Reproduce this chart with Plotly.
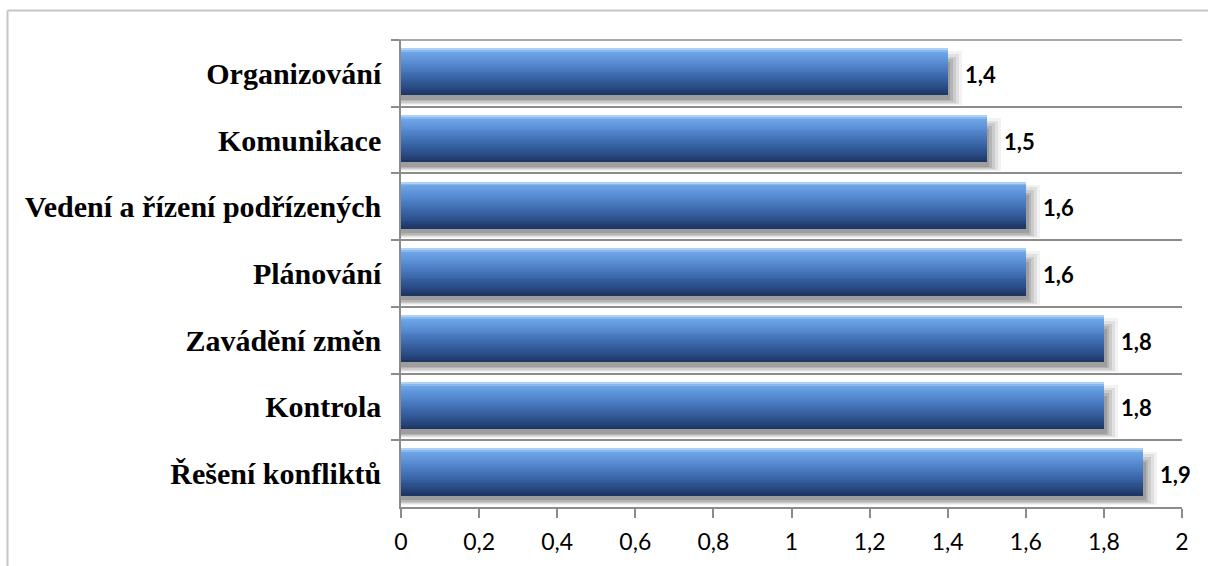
import plotly.graph_objects as go

# Skill areas (top to bottom) and their average scores
categories = [
    "Organizování",
    "Komunikace",
    "Vedení a řízení podřízených",
    "Plánování",
    "Zavádění změn",
    "Kontrola",
    "Řešení konfliktů",
]
values = [1.4, 1.5, 1.6, 1.6, 1.8, 1.8, 1.9]

x_ticks = [0, 0.2, 0.4, 0.6, 0.8, 1.0, 1.2, 1.4, 1.6, 1.8, 2.0]

# Vertical colour stops used to fake the glossy gradient of each bar
grad_stops = [
    (0.00, (200, 224, 248)),
    (0.04, (150, 196, 242)),
    (0.10, (110, 165, 230)),
    (0.30, (88, 140, 212)),
    (0.60, (60, 105, 172)),
    (0.85, (40, 74, 130)),
    (1.00, (30, 52, 96)),
]

BAR_TOP = -0.37   # offset of bar's upper edge from category centre
BAR_H = 0.70      # bar thickness in category units
N_STRIPS = 24


def grad_color(t):
    for (t0, c0), (t1, c1) in zip(grad_stops[:-1], grad_stops[1:]):
        if t0 <= t <= t1:
            f = (t - t0) / (t1 - t0) if t1 > t0 else 0
            c = [round(a + (b - a) * f) for a, b in zip(c0, c1)]
            return f"rgb({c[0]},{c[1]},{c[2]})"
    c = grad_stops[-1][1]
    return f"rgb({c[0]},{c[1]},{c[2]})"


fig = go.Figure()

# Soft drop shadow under each bar (layers of translucent grey)
for dx, dy0, dy1, a in [
    (0.036, 0.04, 0.47, 0.05),
    (0.028, 0.08, 0.455, 0.07),
    (0.021, 0.12, 0.44, 0.09),
    (0.014, 0.16, 0.42, 0.11),
    (0.007, 0.20, 0.40, 0.12),
]:
    fig.add_trace(go.Bar(
        y=categories, x=[v + dx for v in values], orientation="h",
        offset=BAR_TOP + dy0, width=dy1 - (BAR_TOP + dy0),
        marker=dict(color=f"rgba(0,0,0,{a})", line=dict(width=0)),
        hoverinfo="skip", showlegend=False,
    ))

# Gradient bars built from thin horizontal strips
strip_h = BAR_H / N_STRIPS
for i in range(N_STRIPS):
    t = (i + 0.5) / N_STRIPS
    fig.add_trace(go.Bar(
        y=categories, x=values, orientation="h",
        offset=BAR_TOP + i * strip_h, width=strip_h * 1.02,
        marker=dict(color=grad_color(t), line=dict(width=0)),
        hoverinfo="skip", showlegend=False,
    ))

# Value labels to the right of each bar
for cat, v in zip(categories, values):
    fig.add_annotation(
        x=v, y=cat, text=f"{v:.1f}".replace(".", ","),
        showarrow=False, xanchor="left", yanchor="middle", xshift=15, yshift=-1,
        font=dict(family="Lato", size=22, color="black", weight="bold"),
    )

AXIS_GREY = "#8c8c8c"

fig.update_layout(
    width=1208, height=566,
    margin=dict(l=401, r=26, t=40, b=59),
    paper_bgcolor="white", plot_bgcolor="white",
    barmode="overlay", bargap=0,
    separators=", ",
    showlegend=False,
    xaxis=dict(
        range=[0, 2], tickvals=x_ticks, tickformat=".1~f",
        showgrid=False, zeroline=False,
        showline=True, linecolor=AXIS_GREY, linewidth=1.5,
        ticks="outside", ticklen=9, tickwidth=1.5, tickcolor=AXIS_GREY,
        ticklabelstandoff=5,
        tickfont=dict(family="Lato", size=23, color="black"),
        fixedrange=True,
    ),
    yaxis=dict(
        type="category", categoryorder="array", categoryarray=categories,
        autorange="reversed",
        tickson="boundaries",
        showgrid=True, gridcolor=AXIS_GREY, gridwidth=1.5,
        showline=True, linecolor=AXIS_GREY, linewidth=1.5,
        ticks="outside", ticklen=8, tickwidth=1.5, tickcolor=AXIS_GREY,
        ticklabelstandoff=12,
        tickfont=dict(family="Liberation Serif", size=30, color="black", weight="bold"),
        fixedrange=True,
    ),
    shapes=[
        # top boundary line of the plot area
        dict(type="line", xref="paper", yref="paper", x0=-8 / 781, x1=1, y0=1, y1=1,
             line=dict(color=AXIS_GREY, width=1.5)),
        # outer chart frame (left and top edges)
        dict(type="line", xref="paper", yref="paper",
             x0=-393.5 / 781, x1=-393.5 / 781, y0=1 + 29.5 / 467, y1=-0.2,
             line=dict(color="#c6c6c6", width=2)),
        dict(type="line", xref="paper", yref="paper",
             x0=-393.5 / 781, x1=1.1, y0=1 + 29.5 / 467, y1=1 + 29.5 / 467,
             line=dict(color="#c6c6c6", width=2)),
    ],
)

fig.write_html("out.html")
